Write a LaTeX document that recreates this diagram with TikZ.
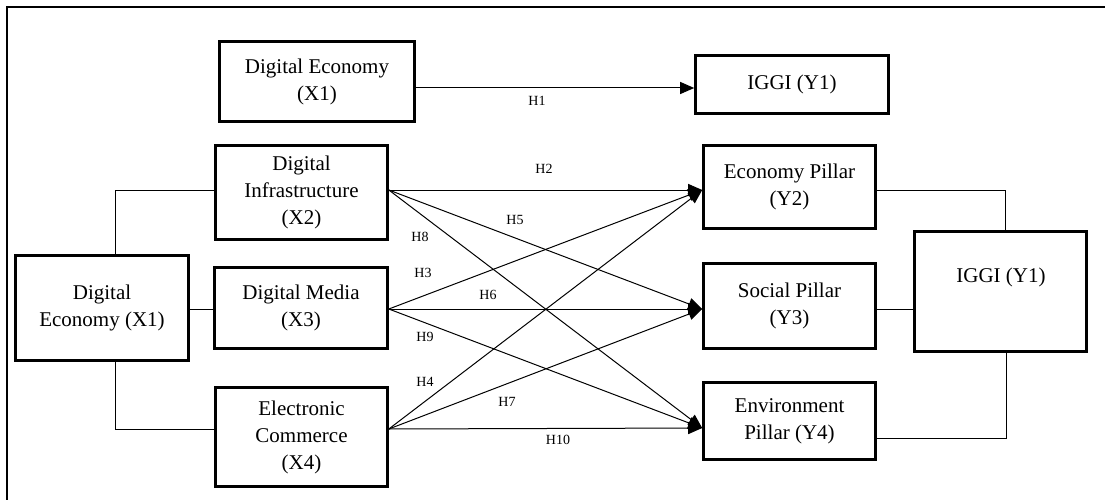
\documentclass[tikz,border=0pt]{standalone}
\usepackage{fontspec}
\setmainfont{Liberation Serif}
\usetikzlibrary{arrows.meta}
\tikzset{
  box/.style={draw, line width=2.6pt, align=center, inner sep=0pt,
    font=\fontsize{21}{27}\selectfont},
  hlab/.style={font=\fontsize{14}{16}\selectfont, inner sep=0pt},
  conn/.style={line width=1pt},
  arr/.style={line width=1pt, -{Triangle[length=14pt,width=12pt]}},
}
\begin{document}
\begin{tikzpicture}[x=1pt,y=1pt]
\useasboundingbox (0,0) rectangle (1105,-500);
% frame
\draw[line width=1.2pt] (7,-500) -- (7,-7) -- (1105,-7);

% boxes
\node[box, minimum width=195pt, minimum height=80pt] (deT) at (317,-81.5) {Digital Economy\\(X1)};
\node[box, minimum width=193pt, minimum height=58pt] (iggiT) at (792,-84.5) {IGGI (Y1)};
\node[box, minimum width=172pt, minimum height=94pt] (di) at (301.5,-192.5) {Digital\\Infrastructure\\(X2)};
\node[box, minimum width=173pt, minimum height=81pt] (dm) at (301,-308) {Digital Media\\(X3)};
\node[box, minimum width=172pt, minimum height=99pt] (ec) at (301.5,-437) {Electronic\\Commerce\\(X4)};
\node[box, minimum width=173pt, minimum height=105pt] (deL) at (102,-308) {Digital\\Economy (X1)};
\node[box, minimum width=172pt, minimum height=83pt] (ep) at (789.5,-187) {Economy Pillar\\(Y2)};
\node[box, minimum width=172pt, minimum height=85pt] (sp) at (789.5,-306) {Social Pillar\\(Y3)};
\node[box, minimum width=172pt, minimum height=77pt] (envp) at (789.5,-421) {Environment\\Pillar (Y4)};
\node[box, minimum width=172pt, minimum height=120pt] (iggiR) at (1000.5,-291.5) {};
\node[font=\fontsize{21}{27}\selectfont, inner sep=0pt] (iggiRt) at (1001,-277) {IGGI (Y1)};

% H1
\draw[arr] (deT.east |- 0,-88) -- (iggiT.west |- 0,-88);

% fan sources/targets
\coordinate (s2) at (di.east |- 0,-190);
\coordinate (s3) at (dm.east |- 0,-309);
\coordinate (s4) at (ec.east |- 0,-429);
\coordinate (t2) at (ep.west |- 0,-190);
\coordinate (t3) at (sp.west |- 0,-309);
\coordinate (t4) at (envp.west |- 0,-428);

\foreach \s in {s2,s3,s4}{
  \foreach \t in {t2,t3,t4}{
    \draw[arr] (\s) -- (\t);
  }
}

% left connectors
\draw[conn] (di.west |- 0,-190) -| ([xshift=13pt]deL.north);
\draw[conn] (deL.east |- 0,-309) -- (dm.west |- 0,-309);
\draw[conn] ([xshift=13pt]deL.south) |- (ec.west |- 0,-429);

% right connectors
\draw[conn] (ep.east |- 0,-190) -| ([xshift=4.5pt]iggiR.north);
\draw[conn] (sp.east |- 0,-309) -- (iggiR.west |- 0,-309);
\draw[conn] (envp.east |- 0,-438) -| ([xshift=5.5pt]iggiR.south);

% hypothesis labels
\node[hlab] (h1) at (537,-101) {H1};
\node[hlab] (h2) at (544,-169) {H2};
\node[hlab] (h5) at (515,-220) {H5};
\node[hlab] (h8) at (420,-237) {H8};
\node[hlab] (h3) at (423,-273) {H3};
\node[hlab] (h6) at (488,-295) {H6};
\node[hlab] (h9) at (425,-337) {H9};
\node[hlab] (h4) at (425,-382) {H4};
\node[hlab] (h7) at (507,-402) {H7};
\node[hlab] (h10) at (558,-440) {H10};
\end{tikzpicture}
\end{document}
